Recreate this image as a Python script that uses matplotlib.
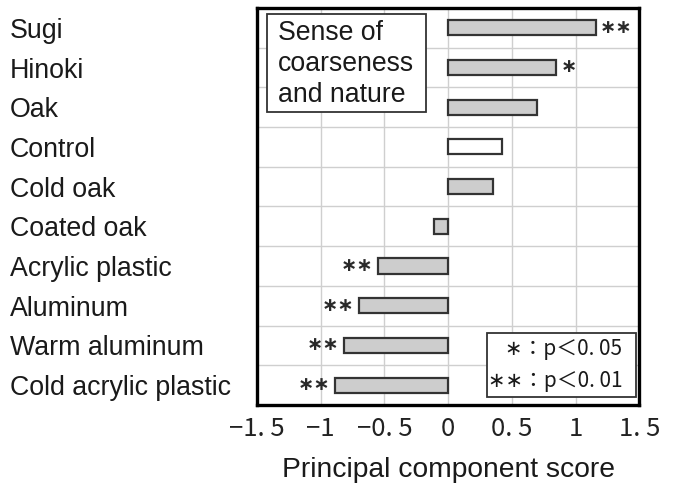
import matplotlib
matplotlib.use("Agg")
import matplotlib.pyplot as plt
from matplotlib.patches import Rectangle
from matplotlib.transforms import offset_copy

# Principal component scores, "sense of coarseness and nature"
materials = ["Sugi", "Hinoki", "Oak", "Control", "Cold oak", "Coated oak",
             "Acrylic plastic", "Aluminum", "Warm aluminum", "Cold acrylic plastic"]
scores = [1.16, 0.85, 0.70, 0.42, 0.35, -0.11, -0.55, -0.70, -0.82, -0.89]
significance = ["**", "*", "", "", "", "", "**", "**", "**", "**"]
x_ticks = [-1.5, -1.0, -0.5, 0.0, 0.5, 1.0, 1.5]
x_tick_labels = ["\u22121. 5", "\u22121", "\u22120. 5", "0", "0. 5", "1", "1. 5"]
key_lines = ["\u2217\uff1ap\uff1c0. 05", "\u2217\u2217\uff1ap\uff1c0. 01"]

SANS = "Liberation Sans"
GOTHIC = ["Noto Sans CJK JP", "DejaVu Sans"]
EDGE = "#333333"

fig = plt.figure(figsize=(6.74, 4.87), dpi=100)
ax = fig.add_axes([0.3813, 0.1684, 0.5671, 0.8152])

y = list(range(len(materials)))
colors = ["white" if m == "Control" else "#cdcdcd" for m in materials]
ax.barh(y, scores, height=0.38, color=colors, edgecolor=EDGE,
        linewidth=1.6, zorder=3)

ax.set_xlim(-1.5, 1.5)
ax.set_ylim(len(materials) - 0.5, -0.5)

ax.set_xticks(x_ticks)
ax.set_xticklabels(x_tick_labels, fontsize=18.5, family=GOTHIC, color="#222222")
ax.set_yticks(y)
ax.set_yticklabels(materials, fontsize=19.3, family=SANS, ha="left", color="#1a1a1a")
ax.tick_params(axis="y", length=0, pad=177.8)
ax.tick_params(axis="x", length=0, pad=8)

ax.set_yticks([k + 0.5 for k in range(len(materials) - 1)], minor=True)
ax.tick_params(which="minor", length=0)
ax.grid(axis="x", which="major", color="#cfcfcf", linewidth=1.0, zorder=0)
ax.grid(axis="y", which="minor", color="#cfcfcf", linewidth=1.0, zorder=0)
ax.set_axisbelow(True)

for s in ax.spines.values():
    s.set_linewidth(2.4)
    s.set_color("black")

ax.set_xlabel("Principal component score", fontsize=20.3, family=SANS,
              labelpad=11, color="#1a1a1a")

# significance marks next to the bar ends
for yi, v, sig in zip(y, scores, significance):
    if not sig:
        continue
    side = 1 if v >= 0 else -1
    tr = offset_copy(ax.transData, fig=fig, x=3 * side, y=0.5, units="points")
    ax.text(v, yi, sig.replace("*", "\u2217"), transform=tr,
            ha="left" if side > 0 else "right", va="center",
            fontsize=14, family="DejaVu Sans", fontweight="bold",
            color="#2a2a2a", zorder=4)

# title box
ax.add_patch(Rectangle((0.0262, 0.7373), 0.4154, 0.2468, transform=ax.transAxes,
                       facecolor="white", edgecolor=EDGE, linewidth=1.3, zorder=5))
ax.text(0.055, 0.764, "Sense of\ncoarseness\nand nature", transform=ax.transAxes,
        ha="left", va="baseline", fontsize=19.2, family=SANS, linespacing=1.25,
        color="#1a1a1a", zorder=6)

# significance key
ax.add_patch(Rectangle((0.602, 0.0202), 0.390, 0.1612, transform=ax.transAxes,
                       facecolor="white", edgecolor=EDGE, linewidth=1.3, zorder=5))
for line, yy in zip(key_lines, [0.1259, 0.0453]):
    ax.text(0.9555, yy, line, transform=ax.transAxes, ha="right", va="baseline",
            fontsize=15, family=GOTHIC, color="#1a1a1a", zorder=6)

fig.savefig("out.png", dpi=100, facecolor="white")
